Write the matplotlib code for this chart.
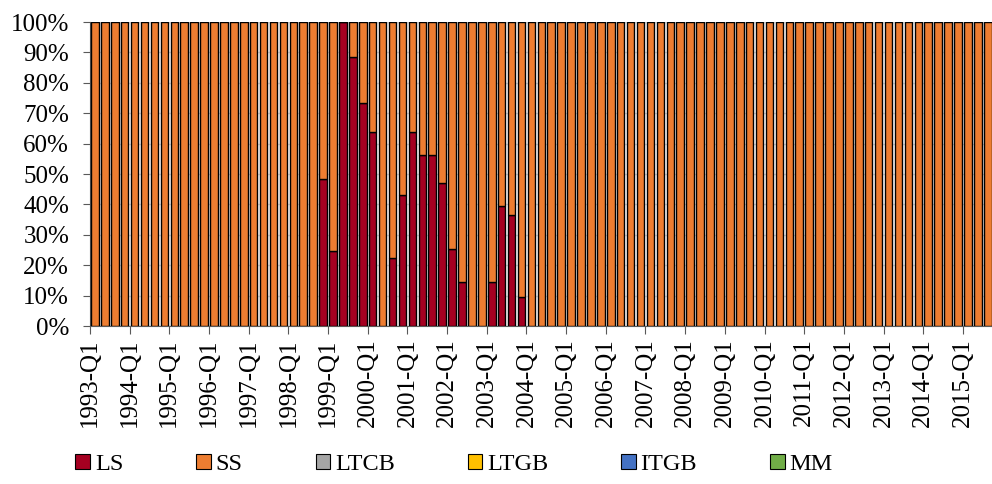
import matplotlib
matplotlib.use("Agg")
from matplotlib import pyplot as plt
from matplotlib.patches import Patch

plt.rcParams['font.family'] = ['Liberation Serif', 'DejaVu Serif']

years = list(range(1993, 2016))
quarters = [f"{y}-Q{q}" for y in years for q in range(1, 5)][:91]  # data ends 2015-Q3

# shares in percent, one row per year (Q1..Q4)
LS = [0, 0, 0, 0,          # 1993
      0, 0, 0, 0,          # 1994
      0, 0, 0, 0,          # 1995
      0, 0, 0, 0,          # 1996
      0, 0, 0, 0,          # 1997
      0, 0, 0, 48.3,       # 1998
      24.7, 100, 88.5, 73.4,   # 1999
      63.7, 0, 22.4, 43.1,     # 2000
      63.7, 56.4, 56.4, 47.2,  # 2001
      25.4, 14.6, 0, 0,        # 2002
      14.6, 39.4, 36.4, 9.5,   # 2003
      0, 0, 0, 0,          # 2004
      0, 0, 0, 0,          # 2005
      0, 0, 0, 0,          # 2006
      0, 0, 0, 0,          # 2007
      0, 0, 0, 0,          # 2008
      0, 0, 0, 0,          # 2009
      0, 0, 0, 0,          # 2010
      0, 0, 0, 0,          # 2011
      0, 0, 0, 0,          # 2012
      0, 0, 0, 0,          # 2013
      0, 0, 0, 0,          # 2014
      0, 0, 0]             # 2015

SS = [100, 100, 100, 100,
      100, 100, 100, 100,
      100, 100, 100, 100,
      100, 100, 100, 100,
      100, 100, 100, 100,
      100, 100, 100, 51.7,
      75.3, 0, 11.5, 26.6,
      36.3, 100, 77.6, 56.9,
      36.3, 43.6, 43.6, 52.8,
      74.6, 85.4, 100, 100,
      85.4, 60.6, 63.6, 90.5,
      100, 100, 100, 100,
      100, 100, 100, 100,
      100, 100, 100, 100,
      100, 100, 100, 100,
      100, 100, 100, 100,
      100, 100, 100, 100,
      100, 100, 100, 100,
      100, 100, 100, 100,
      100, 100, 100, 100,
      100, 100, 100, 100,
      100, 100, 100, 100,
      100, 100, 100]

zeros = [0] * len(quarters)
LTCB = zeros
LTGB = zeros
ITGB = zeros
MM = zeros

series = [("LS", LS, "#A50021"),
          ("SS", SS, "#ED7D31"),
          ("LTCB", LTCB, "#A5A5A5"),
          ("LTGB", LTGB, "#FFC000"),
          ("ITGB", ITGB, "#4472C4"),
          ("MM", MM, "#70AD47")]

fig = plt.figure(figsize=(9.92, 4.84), dpi=100)
ax = fig.add_axes([0.0907, 0.3264, 0.91, 0.6281])

x = list(range(len(quarters)))
bottom = [0] * len(quarters)
for name, vals, col in series:
    if max(vals) > 0:
        ax.bar(x, vals, bottom=bottom, width=0.76, color=col,
               edgecolor="black", linewidth=1.0, zorder=3)
    bottom = [b + v for b, v in zip(bottom, vals)]

ax.set_xlim(-0.5, len(quarters) - 0.5)
ax.set_ylim(0, 100)
ax.set_yticks(range(0, 101, 10))
ax.set_yticklabels([f"{v}%" for v in range(0, 101, 10)], fontsize=18)
ax.yaxis.grid(True, color="#D9D9D9", linewidth=1)
ax.set_axisbelow(True)

tick_pos = [i - 0.5 for i in range(0, len(quarters), 4)]
ax.set_xticks(tick_pos)
ax.set_xticklabels([quarters[i] for i in range(0, len(quarters), 4)],
                   rotation=90, fontsize=18)
ax.tick_params(axis="x", length=6, pad=3, color="#595959")
ax.tick_params(axis="y", length=5, pad=10, color="#595959")

for s in ["top", "right"]:
    ax.spines[s].set_visible(False)
for s in ["left", "bottom"]:
    ax.spines[s].set_color("#595959")

handles = [Patch(facecolor=col, edgecolor="black", linewidth=0.8) for _, _, col in series]
fig.legend(handles, [n for n, _, _ in series], loc="center",
           bbox_to_anchor=(0.4577, 0.04), ncol=6, frameon=False, fontsize=17.5,
           handlelength=0.6, handleheight=0.6, handletextpad=0.2,
           columnspacing=3.0)

fig.savefig("out.png", dpi=100)
